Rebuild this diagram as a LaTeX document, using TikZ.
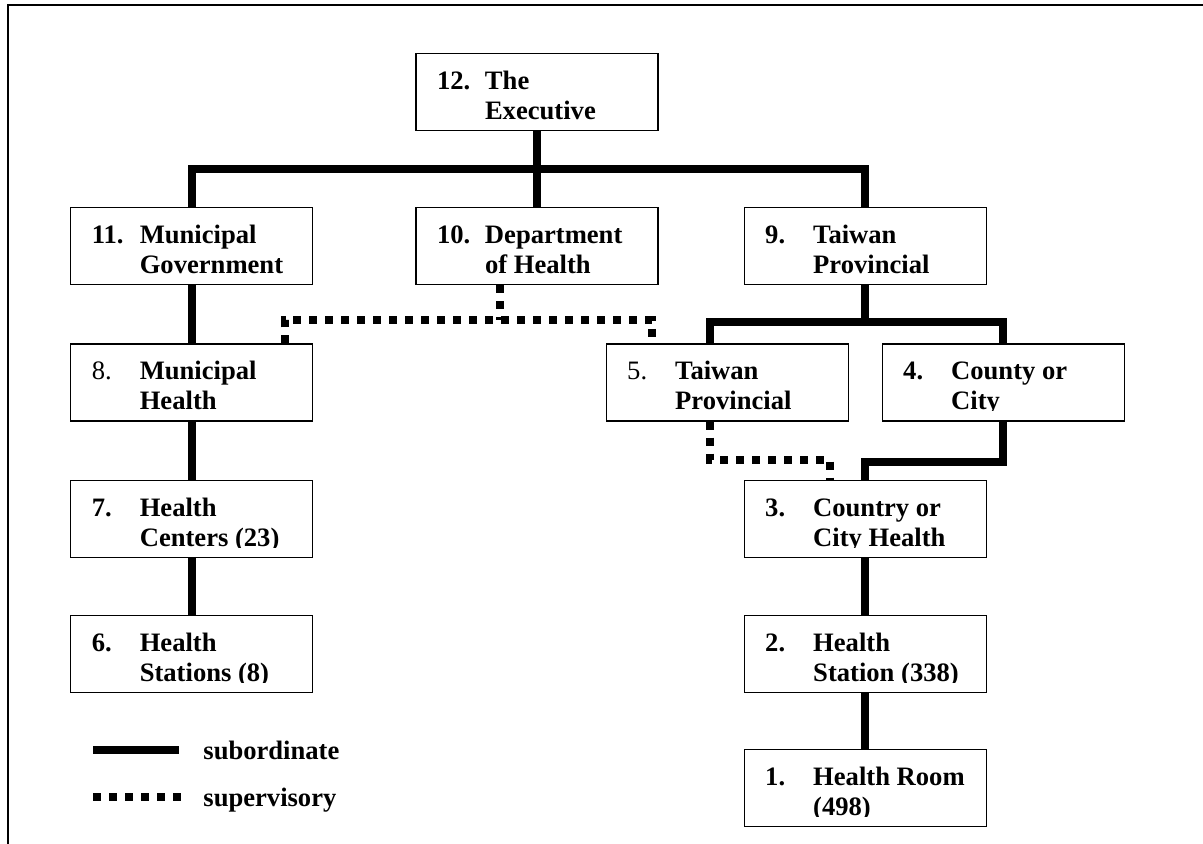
\documentclass[tikz,border=0pt]{standalone}
\usepackage{fontspec}
\setmainfont{Liberation Serif}
\usepackage{trimclip}
\usetikzlibrary{positioning}

\newcommand{\orgtext}[3]{\makebox[100pt][l]{\raisebox{-1.25pt}[25.5pt][0.5pt]{\clipbox{0pt 4pt 0pt 0pt}{\begin{tabular}[b]{@{}l@{}l@{}}\makebox[24pt][l]{#1} & #2\\ & #3\end{tabular}}}}}

\tikzset{
	orgbox/.style={draw, line width=0.6pt, minimum width=121pt, minimum height=38.5pt, inner xsep=10.5pt, inner ysep=0pt, font=\fontsize{13.3}{15}\selectfont\bfseries},
	subline/.style={line width=4pt},
	supline/.style={line width=4pt, dash pattern=on 4pt off 4pt},
	legendtext/.style={inner sep=0pt, font=\fontsize{13.3}{15}\selectfont\bfseries}
}

\begin{document}
\begin{tikzpicture}
	\useasboundingbox (0,0) rectangle (601.5pt,-422pt);
	\draw[line width=1pt] (601.5pt,-2.75pt) -| (3.75pt,-422pt);
	
	\node[orgbox] (exec) at (268.5pt,-46pt) {\orgtext{12.}{The}{Executive}};
	\node[orgbox, below=38pt of exec] (doh) {\orgtext{10.}{Department}{of Health}};
	\node[orgbox, left=51pt of doh] (munigov) {\orgtext{11.}{Municipal}{Government}};
	\node[orgbox, right=42.5pt of doh] (prov) {\orgtext{9.}{Taiwan}{Provincial}};
	\node[orgbox, below=29pt of munigov] (munihealth) {\orgtext{\textmd{8.}}{Municipal}{Health}};
	\node[orgbox, below=29pt of munihealth] (centers) {\orgtext{7.}{Health}{Centers (23)}};
	\node[orgbox, below=28.5pt of centers] (stations) {\orgtext{6.}{Health}{Stations (8)}};
	\node[orgbox, below=29pt of prov, xshift=-69pt] (provhealth) {\orgtext{\textmd{5.}}{Taiwan}{Provincial}};
	\node[orgbox, below=29pt of prov, xshift=69pt] (county) {\orgtext{4.}{County or}{City}};
	\node[orgbox] (cityhealth) at (prov |- centers) {\orgtext{3.}{Country or}{City Health}};
	\node[orgbox] (station) at (prov |- stations) {\orgtext{2.}{Health}{Station (338)}};
	\node[orgbox, below=28pt of station] (room) {\orgtext{1.}{Health Room}{(498)}};
	
	\draw[subline] (exec) -- (doh);
	\draw[subline] (munigov.north) |- ([yshift=19pt]doh.north) -| (prov.north);
	\draw[subline] (munigov) -- (munihealth);
	\draw[subline] (munihealth) -- (centers);
	\draw[subline] (centers) -- (stations);
	\draw[subline] (prov.south) -- ++(0,-18.25pt) coordinate (provsplit);
	\draw[subline] ([xshift=-8.5pt]provhealth.north) |- (provsplit) -| (county.north);
	\draw[subline] (county.south) -- ++(0,-20pt) -| (cityhealth.north);
	\draw[subline] (cityhealth) -- (station);
	\draw[subline] (station) -- (room);
	
	\draw[supline] ([xshift=-18.5pt]doh.south) -- ++(0,-17.25pt) coordinate (supsplit);
	\draw[supline] ([xshift=46.5pt]munihealth.north) |- (supsplit) -| ([xshift=-37.5pt]provhealth.north);
	\draw[supline] ([xshift=-8.5pt]provhealth.south) -- ++(0,-19pt) -| ([xshift=-17.5pt]cityhealth.north);
	
	\node[legendtext, anchor=base west] (subtxt) at (101.5pt,-379.5pt) {subordinate};
	\node[legendtext, anchor=base west] (suptxt) at (101.5pt,-403pt) {supervisory};
	\draw[subline] ([shift={(-55pt,4.5pt)}]subtxt.base west) -- ++(43pt,0);
	\draw[supline] ([shift={(-55pt,4.5pt)}]suptxt.base west) -- ++(44pt,0);
\end{tikzpicture}
\end{document}
